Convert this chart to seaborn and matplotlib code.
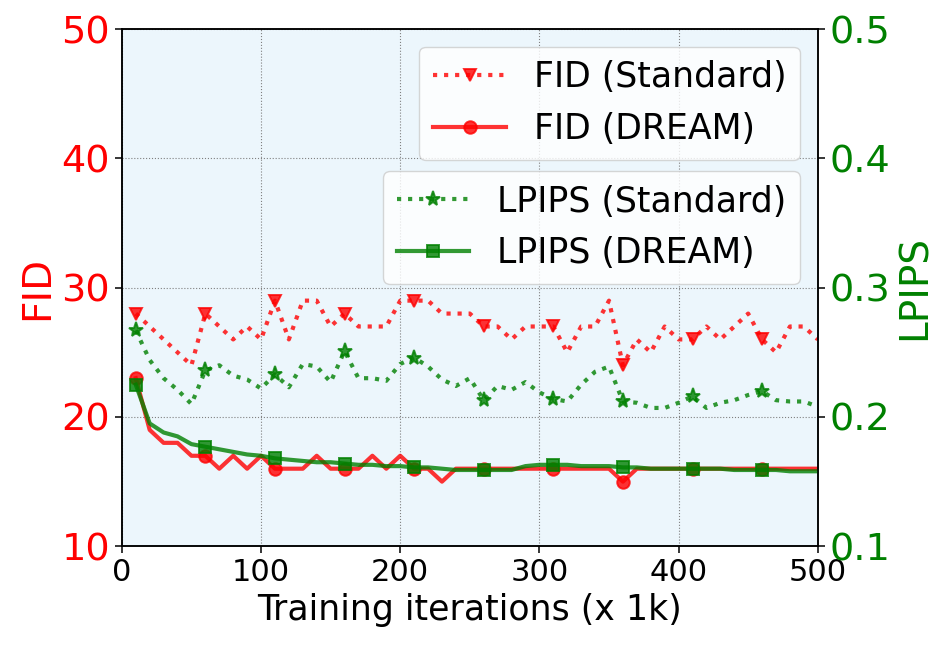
import seaborn as sns
import matplotlib
matplotlib.use('Agg')
import matplotlib.pyplot as plt

iters = list(range(10, 501, 10))

fid_standard = [28, 27, 26, 25, 24, 28, 27, 26, 27, 26,
                29, 26, 29, 29, 27, 28, 27, 27, 27, 29,
                29, 29, 28, 28, 28, 27, 27, 26, 27, 27,
                27, 25, 27, 27, 29, 24, 26, 25, 27, 26,
                26, 27, 26, 27, 28, 26, 25, 27, 27, 26]
fid_dream = [23, 19, 18, 18, 17, 17, 16, 17, 16, 17,
             16, 16, 16, 17, 16, 16, 16, 17, 16, 17,
             16, 16, 15, 16, 16, 16, 16, 16, 16, 16,
             16, 16, 16, 16, 16, 15, 16, 16, 16, 16,
             16, 16, 16, 16, 16, 16, 16, 16, 16, 16]
lpips_standard = [0.267, 0.244, 0.230, 0.221, 0.210, 0.236, 0.240, 0.232, 0.229, 0.222,
                  0.233, 0.223, 0.241, 0.239, 0.227, 0.251, 0.230, 0.230, 0.228, 0.241,
                  0.246, 0.239, 0.229, 0.224, 0.230, 0.213, 0.224, 0.221, 0.227, 0.219,
                  0.214, 0.212, 0.225, 0.235, 0.239, 0.212, 0.211, 0.207, 0.207, 0.211,
                  0.216, 0.207, 0.211, 0.213, 0.217, 0.220, 0.213, 0.212, 0.212, 0.208]
lpips_dream = [0.225, 0.195, 0.188, 0.185, 0.179, 0.177, 0.175, 0.173, 0.171, 0.170,
               0.168, 0.167, 0.166, 0.165, 0.165, 0.164, 0.163, 0.163, 0.162, 0.162,
               0.161, 0.161, 0.160, 0.159, 0.159, 0.159, 0.159, 0.159, 0.162, 0.163,
               0.163, 0.163, 0.162, 0.162, 0.162, 0.161, 0.161, 0.160, 0.160, 0.160,
               0.160, 0.160, 0.160, 0.159, 0.159, 0.159, 0.159, 0.158, 0.158, 0.158]

fig = plt.figure(figsize=(9.52, 6.48), dpi=100)
fig.subplots_adjust(left=0.128, right=0.859, bottom=0.157, top=0.955)
ax1 = fig.add_subplot(111)
ax1.set_facecolor('#ECF6FC')
ax2 = ax1.twinx()

lw = 3
ms = 9
mew = 1.4
sns.lineplot(x=iters, y=fid_standard, ax=ax1, color='red', alpha=0.8, linestyle=':',
             linewidth=lw, marker='v', markersize=ms, markevery=5,
             markeredgewidth=mew, markeredgecolor='red',
             label='FID (Standard)', legend=False)
sns.lineplot(x=iters, y=fid_dream, ax=ax1, color='red', alpha=0.8, linestyle='-',
             linewidth=lw, marker='o', markersize=ms, markevery=5,
             markeredgewidth=mew, markeredgecolor='red',
             label='FID (DREAM)', legend=False)
sns.lineplot(x=iters, y=lpips_standard, ax=ax2, color='green', alpha=0.8, linestyle=':',
             linewidth=lw, marker='*', markersize=ms + 2, markevery=5,
             markeredgewidth=mew, markeredgecolor='green',
             label='LPIPS (Standard)', legend=False)
sns.lineplot(x=iters, y=lpips_dream, ax=ax2, color='green', alpha=0.8, linestyle='-',
             linewidth=lw, marker='s', markersize=ms - 0.5, markevery=5,
             markeredgewidth=mew, markeredgecolor='green',
             label='LPIPS (DREAM)', legend=False)

ax1.set_xlim(0, 500)
ax1.set_ylim(10, 50)
ax2.set_ylim(0.1, 0.5)
ax1.set_xticks([0, 100, 200, 300, 400, 500])
ax1.set_yticks([10, 20, 30, 40, 50])
ax2.set_yticks([0.1, 0.2, 0.3, 0.4, 0.5])
ax1.grid(True, linestyle=':', color='gray', linewidth=0.8)

ax1.set_xlabel('Training iterations (x 1k)', fontsize=25)
ax1.set_ylabel('FID', fontsize=28, color='red')
ax2.set_ylabel('LPIPS', fontsize=28, color='green')
ax1.tick_params(axis='x', labelsize=22, length=5, width=1.1)
ax1.tick_params(axis='y', labelsize=27.5, labelcolor='red', length=5, width=1.1)
ax2.tick_params(axis='y', labelsize=27.5, labelcolor='green', length=5, width=1.1)
for ax in (ax1, ax2):
    for sp in ax.spines.values():
        sp.set_linewidth(1.1)

h1, l1 = ax1.get_legend_handles_labels()
h2, l2 = ax2.get_legend_handles_labels()
ax1.legend(h1, l1, loc='upper right', fontsize=25, handlelength=2.1)
ax2.legend(h2, l2, loc='upper right', bbox_to_anchor=(1, 0.76), fontsize=25,
           handlelength=2.1)

fig.savefig('out.png', dpi=100)
